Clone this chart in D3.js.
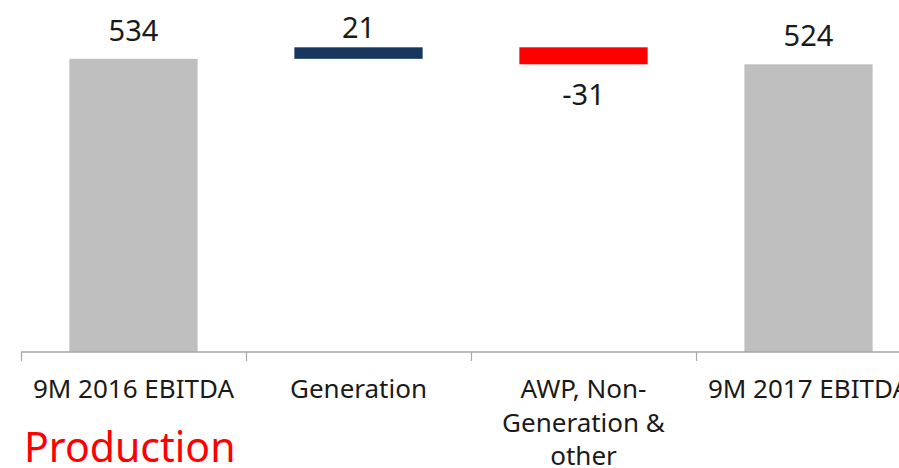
<!DOCTYPE html>
<html><head><meta charset="utf-8">
<script src="https://cdn.jsdelivr.net/npm/d3@7"></script>
<style>html,body{margin:0;padding:0;background:#fff;overflow:hidden}</style>
</head><body>
<svg id="chart" width="899" height="468"></svg>
<script>
const categories = ["9M 2016 EBITDA", "Generation", "AWP, Non-Generation & other", "9M 2017 EBITDA"];
const categoryLines = [["9M 2016 EBITDA"], ["Generation"], ["AWP, Non-", "Generation &", "other"], ["9M 2017 EBITDA"]];
const values = [534, 21, -31, 524];
const kinds = ["total", "delta", "delta", "total"];
const valueLabels = ["534", "21", "-31", "524"];
const title = "Production";

const svg = d3.select("#chart");
const baseY = 352;
const y = d3.scaleLinear().domain([0, 555]).range([baseY, 47.3]);
const x = d3.scaleBand().domain(categories).range([21, 921]).padding(0);
const barW = x.bandwidth() * 0.57;
const colors = {total: "#BFBFBF", up: "#17375E", down: "#FF0000"};

let run = 0;
const segs = categories.map((c, i) => {
  let y0, y1, color;
  if (kinds[i] === "total") { y0 = 0; y1 = values[i]; run = values[i]; color = colors.total; }
  else { y0 = run; y1 = run + values[i]; run = y1; color = values[i] >= 0 ? colors.up : colors.down; }
  return {c, i, y0, y1, color, v: values[i], kind: kinds[i]};
});

svg.selectAll("rect.bar").data(segs).enter().append("rect")
  .attr("class", "bar")
  .attr("x", d => x(d.c) + (x.bandwidth() - barW) / 2)
  .attr("width", barW)
  .attr("y", d => y(Math.max(d.y0, d.y1)))
  .attr("height", d => Math.abs(y(d.y0) - y(d.y1)))
  .attr("fill", d => d.color);

svg.selectAll("text.val").data(segs).enter().append("text")
  .attr("class", "val")
  .attr("x", d => x(d.c) + x.bandwidth() / 2)
  .attr("y", d => {
    const top = y(Math.max(d.y0, d.y1)), bot = y(Math.min(d.y0, d.y1));
    if (d.kind === "total") return top - 18;
    return d.v >= 0 ? top - 9 : bot + 41;
  })
  .attr("text-anchor", "middle")
  .attr("font-family", "'Noto Sans', 'Open Sans', sans-serif")
  .attr("font-size", 29)
  .attr("fill", "#1a1a1a")
  .text((d, i) => valueLabels[i]);

const axisG = svg.append("g");
axisG.append("line").attr("x1", 21).attr("x2", 921).attr("y1", baseY).attr("y2", baseY)
  .attr("stroke", "#a6a6a6").attr("stroke-width", 1.5);
axisG.selectAll("line.tick").data(categories).enter().append("line")
  .attr("x1", d => Math.round(x(d)) + 0.5).attr("x2", d => Math.round(x(d)) + 0.5)
  .attr("y1", baseY).attr("y2", baseY + 9)
  .attr("stroke", "#a6a6a6").attr("stroke-width", 1.2);

const catG = svg.selectAll("text.cat").data(categories).enter().append("text")
  .attr("class", "cat")
  .attr("text-anchor", "middle")
  .attr("font-family", "'Noto Sans', 'Open Sans', sans-serif")
  .attr("font-size", 26)
  .attr("fill", "#1a1a1a");
catG.each(function(d, i) {
  const t = d3.select(this);
  categoryLines[i].forEach((ln, j) => {
    t.append("tspan").attr("x", x(d) + x.bandwidth() / 2).attr("y", 398 + j * 33.5).text(ln);
  });
});

svg.append("text").attr("x", 24).attr("y", 462)
  .attr("font-family", "'Noto Sans', 'Open Sans', sans-serif")
  .attr("font-size", 41).attr("fill", "#FF0000").text(title);
</script>
</body></html>
